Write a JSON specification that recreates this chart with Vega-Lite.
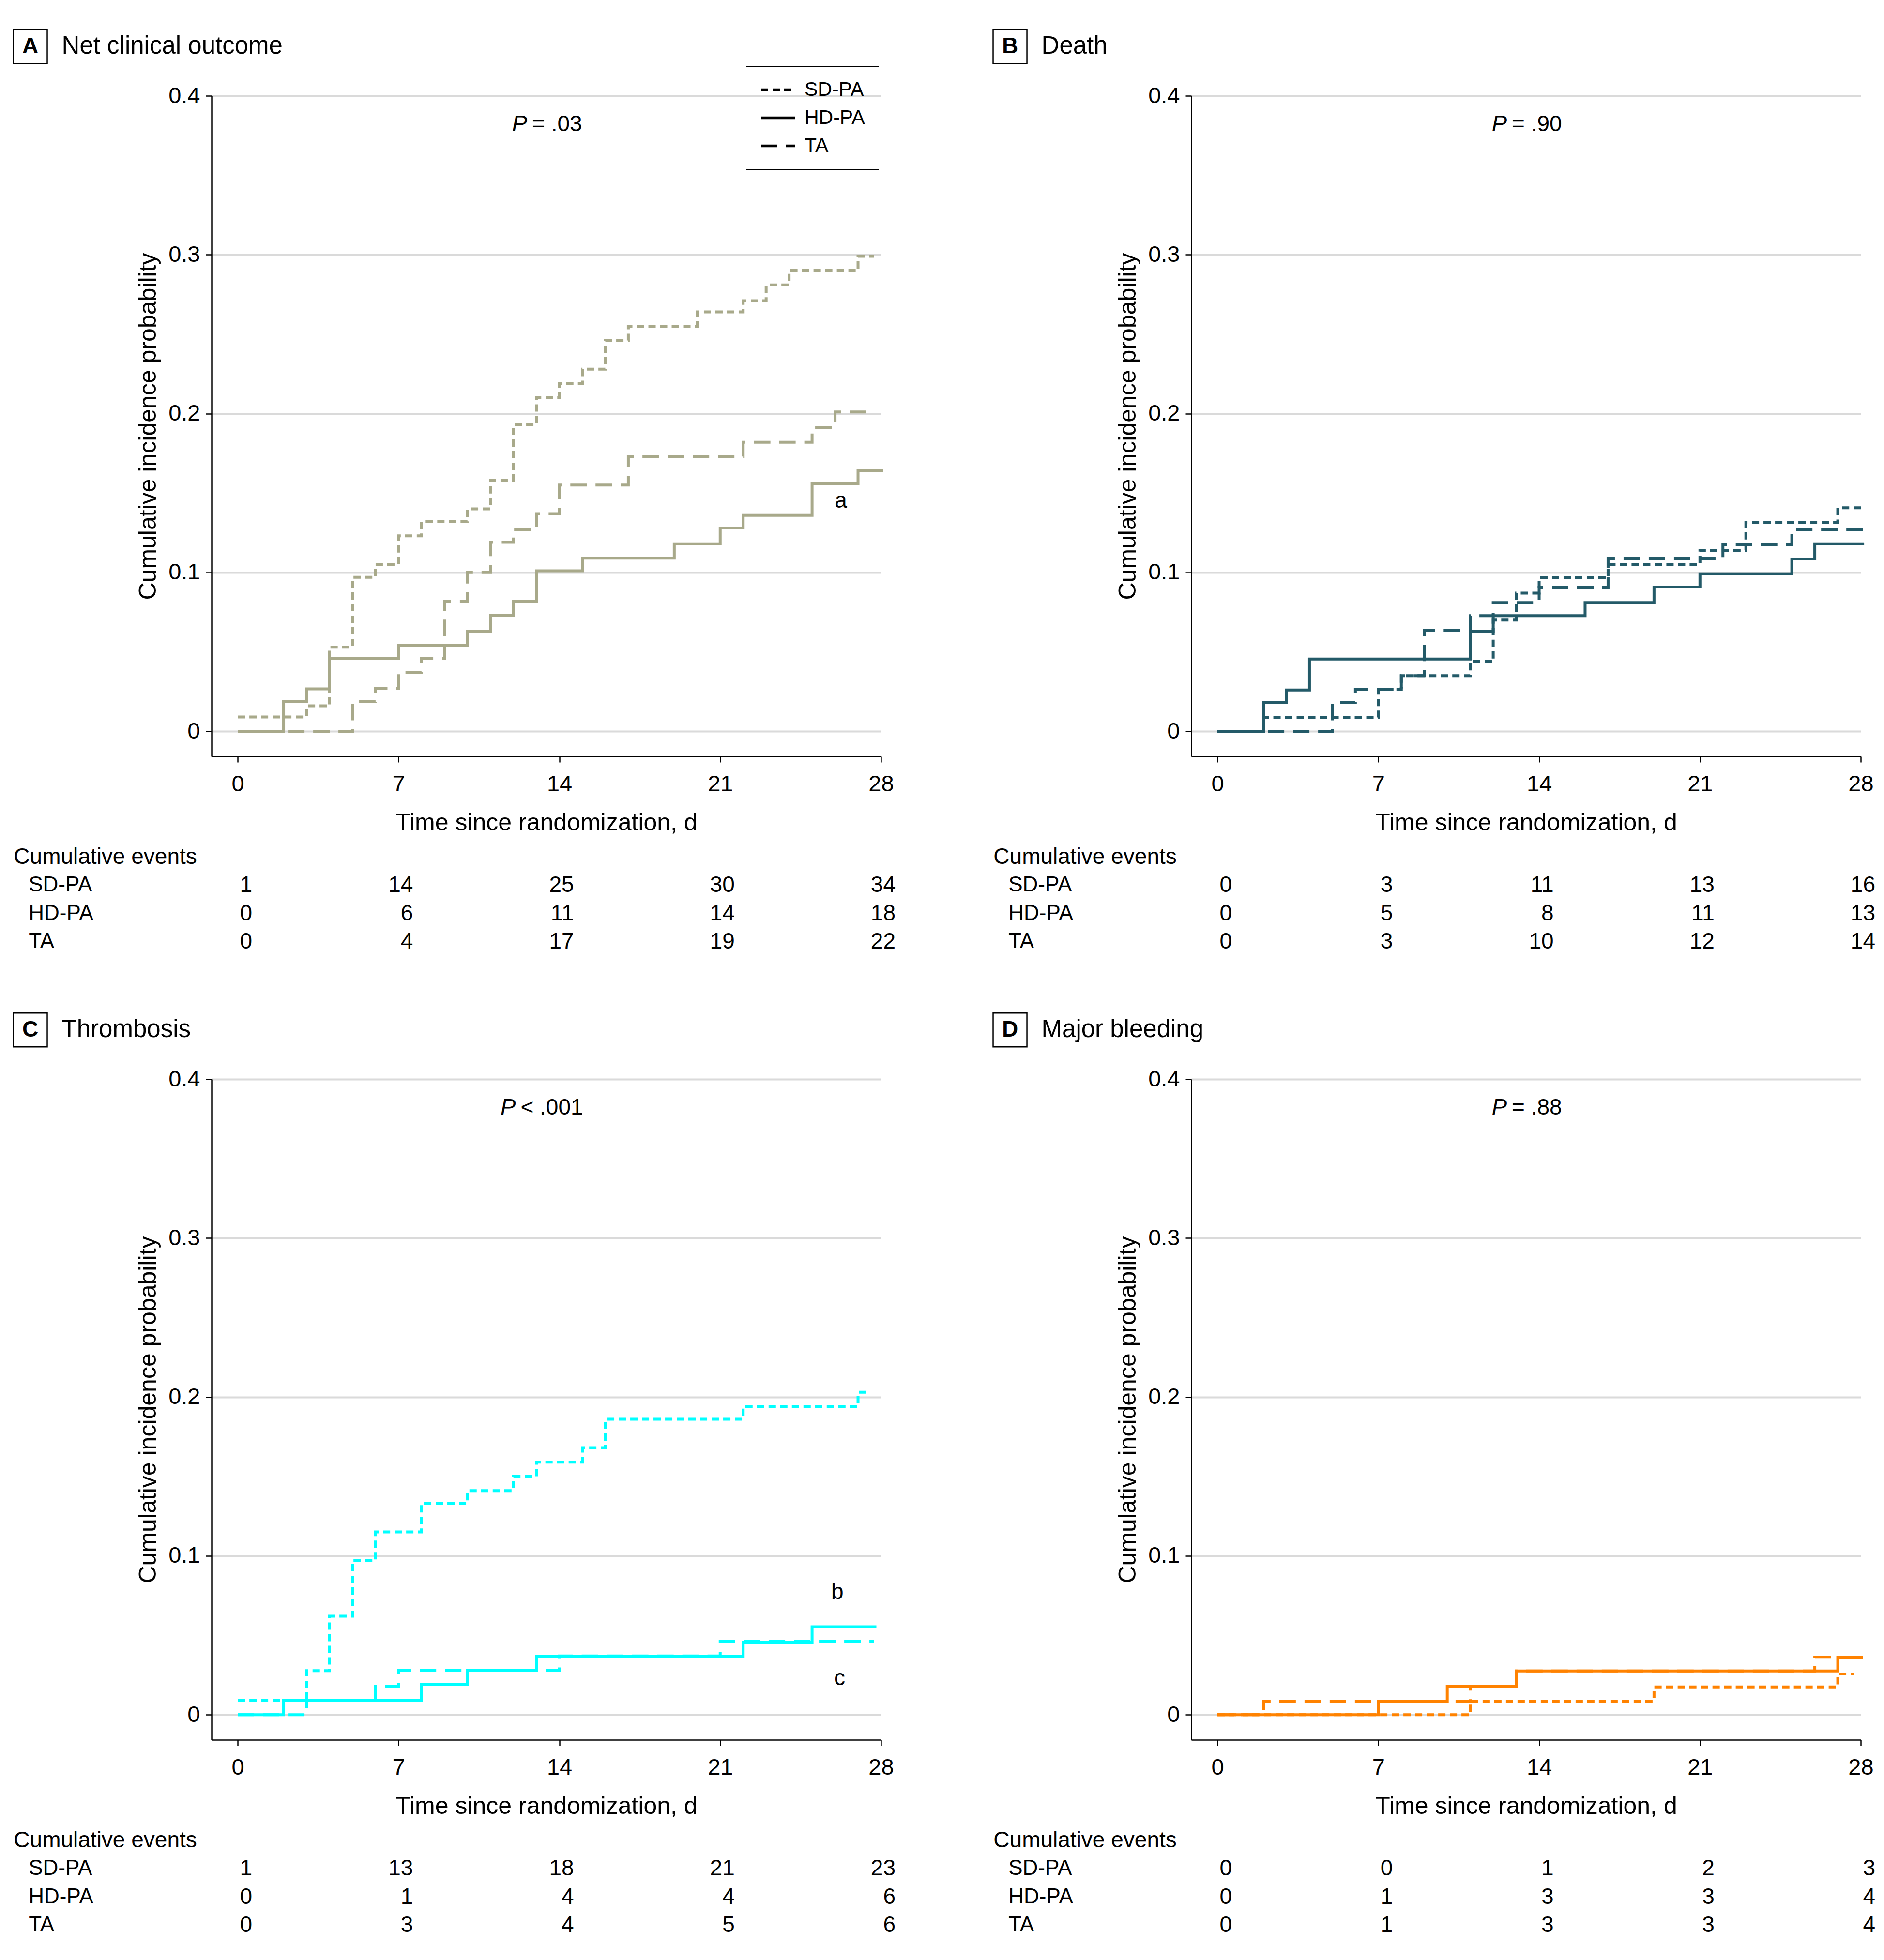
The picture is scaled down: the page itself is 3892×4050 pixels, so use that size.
{
 "$schema": "https://vega.github.io/schema/vega-lite/v6.json",
 "background": "white",
 "padding": {"left": 22, "top": 56, "right": 10, "bottom": 10},
 "autosize": {"type": "pad"},
 "config": {
  "view": {"stroke": null},
  "font": "Liberation Sans",
  "line": {"strokeWidth": 5.5},
  "axis": {"domainColor": "black", "domainWidth": 2.5, "tickColor": "black", "tickWidth": 2.5, "tickSize": 12, "labelFontSize": 47, "labelColor": "black", "titleFontSize": 50, "titleFontWeight": "normal", "titleColor": "black", "labelFont": "Liberation Sans", "titleFont": "Liberation Sans"},
  "axisX": {"grid": false, "labelPadding": 22, "titlePadding": 32, "labelFlush": false},
  "axisY": {"grid": true, "gridColor": "#DADADA", "gridWidth": 4, "labelPadding": 12, "titlePadding": 16},
  "legend": {"labelFont": "Liberation Sans"}
 },
 "datasets": {
  "notes": [
   {"panel": "A", "letter": "A", "title": "Net clinical outcome", "pmark": "P", "ptext": "= .03"},
   {"panel": "B", "letter": "B", "title": "Death", "pmark": "P", "ptext": "= .90"},
   {"panel": "C", "letter": "C", "title": "Thrombosis", "pmark": "P", "ptext": "< .001"},
   {"panel": "D", "letter": "D", "title": "Major  bleeding", "pmark": "P", "ptext": "= .88"}
  ],
  "table": [
   {"panel": "A", "group": "SD-PA", "day": 0, "n": 1}, {"panel": "A", "group": "SD-PA", "day": 7, "n": 14}, {"panel": "A", "group": "SD-PA", "day": 14, "n": 25}, {"panel": "A", "group": "SD-PA", "day": 21, "n": 30}, {"panel": "A", "group": "SD-PA", "day": 28, "n": 34},
   {"panel": "A", "group": "HD-PA", "day": 0, "n": 0}, {"panel": "A", "group": "HD-PA", "day": 7, "n": 6}, {"panel": "A", "group": "HD-PA", "day": 14, "n": 11}, {"panel": "A", "group": "HD-PA", "day": 21, "n": 14}, {"panel": "A", "group": "HD-PA", "day": 28, "n": 18},
   {"panel": "A", "group": "TA", "day": 0, "n": 0}, {"panel": "A", "group": "TA", "day": 7, "n": 4}, {"panel": "A", "group": "TA", "day": 14, "n": 17}, {"panel": "A", "group": "TA", "day": 21, "n": 19}, {"panel": "A", "group": "TA", "day": 28, "n": 22},
   {"panel": "B", "group": "SD-PA", "day": 0, "n": 0}, {"panel": "B", "group": "SD-PA", "day": 7, "n": 3}, {"panel": "B", "group": "SD-PA", "day": 14, "n": 11}, {"panel": "B", "group": "SD-PA", "day": 21, "n": 13}, {"panel": "B", "group": "SD-PA", "day": 28, "n": 16},
   {"panel": "B", "group": "HD-PA", "day": 0, "n": 0}, {"panel": "B", "group": "HD-PA", "day": 7, "n": 5}, {"panel": "B", "group": "HD-PA", "day": 14, "n": 8}, {"panel": "B", "group": "HD-PA", "day": 21, "n": 11}, {"panel": "B", "group": "HD-PA", "day": 28, "n": 13},
   {"panel": "B", "group": "TA", "day": 0, "n": 0}, {"panel": "B", "group": "TA", "day": 7, "n": 3}, {"panel": "B", "group": "TA", "day": 14, "n": 10}, {"panel": "B", "group": "TA", "day": 21, "n": 12}, {"panel": "B", "group": "TA", "day": 28, "n": 14},
   {"panel": "C", "group": "SD-PA", "day": 0, "n": 1}, {"panel": "C", "group": "SD-PA", "day": 7, "n": 13}, {"panel": "C", "group": "SD-PA", "day": 14, "n": 18}, {"panel": "C", "group": "SD-PA", "day": 21, "n": 21}, {"panel": "C", "group": "SD-PA", "day": 28, "n": 23},
   {"panel": "C", "group": "HD-PA", "day": 0, "n": 0}, {"panel": "C", "group": "HD-PA", "day": 7, "n": 1}, {"panel": "C", "group": "HD-PA", "day": 14, "n": 4}, {"panel": "C", "group": "HD-PA", "day": 21, "n": 4}, {"panel": "C", "group": "HD-PA", "day": 28, "n": 6},
   {"panel": "C", "group": "TA", "day": 0, "n": 0}, {"panel": "C", "group": "TA", "day": 7, "n": 3}, {"panel": "C", "group": "TA", "day": 14, "n": 4}, {"panel": "C", "group": "TA", "day": 21, "n": 5}, {"panel": "C", "group": "TA", "day": 28, "n": 6},
   {"panel": "D", "group": "SD-PA", "day": 0, "n": 0}, {"panel": "D", "group": "SD-PA", "day": 7, "n": 0}, {"panel": "D", "group": "SD-PA", "day": 14, "n": 1}, {"panel": "D", "group": "SD-PA", "day": 21, "n": 2}, {"panel": "D", "group": "SD-PA", "day": 28, "n": 3},
   {"panel": "D", "group": "HD-PA", "day": 0, "n": 0}, {"panel": "D", "group": "HD-PA", "day": 7, "n": 1}, {"panel": "D", "group": "HD-PA", "day": 14, "n": 3}, {"panel": "D", "group": "HD-PA", "day": 21, "n": 3}, {"panel": "D", "group": "HD-PA", "day": 28, "n": 4},
   {"panel": "D", "group": "TA", "day": 0, "n": 0}, {"panel": "D", "group": "TA", "day": 7, "n": 1}, {"panel": "D", "group": "TA", "day": 14, "n": 3}, {"panel": "D", "group": "TA", "day": 21, "n": 3}, {"panel": "D", "group": "TA", "day": 28, "n": 4}
  ],
  "curves": [
   {"panel": "A", "group": "TA", "day": 0, "prob": 0}, {"panel": "A", "group": "TA", "day": 5, "prob": 0.0186}, {"panel": "A", "group": "TA", "day": 6, "prob": 0.027}, {"panel": "A", "group": "TA", "day": 7, "prob": 0.037}, {"panel": "A", "group": "TA", "day": 8, "prob": 0.0457}, {"panel": "A", "group": "TA", "day": 9, "prob": 0.082}, {"panel": "A", "group": "TA", "day": 10, "prob": 0.1}, {"panel": "A", "group": "TA", "day": 11, "prob": 0.119}, {"panel": "A", "group": "TA", "day": 12, "prob": 0.127}, {"panel": "A", "group": "TA", "day": 13, "prob": 0.137}, {"panel": "A", "group": "TA", "day": 14, "prob": 0.155}, {"panel": "A", "group": "TA", "day": 17, "prob": 0.173}, {"panel": "A", "group": "TA", "day": 22, "prob": 0.182}, {"panel": "A", "group": "TA", "day": 25, "prob": 0.191}, {"panel": "A", "group": "TA", "day": 26, "prob": 0.201}, {"panel": "A", "group": "TA", "day": 27.7, "prob": 0.201},
   {"panel": "A", "group": "SD-PA", "day": 0, "prob": 0.009}, {"panel": "A", "group": "SD-PA", "day": 3, "prob": 0.016}, {"panel": "A", "group": "SD-PA", "day": 4, "prob": 0.053}, {"panel": "A", "group": "SD-PA", "day": 5, "prob": 0.097}, {"panel": "A", "group": "SD-PA", "day": 6, "prob": 0.105}, {"panel": "A", "group": "SD-PA", "day": 7, "prob": 0.123}, {"panel": "A", "group": "SD-PA", "day": 8, "prob": 0.132}, {"panel": "A", "group": "SD-PA", "day": 10, "prob": 0.14}, {"panel": "A", "group": "SD-PA", "day": 11, "prob": 0.158}, {"panel": "A", "group": "SD-PA", "day": 12, "prob": 0.193}, {"panel": "A", "group": "SD-PA", "day": 13, "prob": 0.21}, {"panel": "A", "group": "SD-PA", "day": 14, "prob": 0.219}, {"panel": "A", "group": "SD-PA", "day": 15, "prob": 0.228}, {"panel": "A", "group": "SD-PA", "day": 16, "prob": 0.246}, {"panel": "A", "group": "SD-PA", "day": 17, "prob": 0.255}, {"panel": "A", "group": "SD-PA", "day": 20, "prob": 0.264}, {"panel": "A", "group": "SD-PA", "day": 22, "prob": 0.271}, {"panel": "A", "group": "SD-PA", "day": 23, "prob": 0.281}, {"panel": "A", "group": "SD-PA", "day": 24, "prob": 0.29}, {"panel": "A", "group": "SD-PA", "day": 27, "prob": 0.299}, {"panel": "A", "group": "SD-PA", "day": 27.7, "prob": 0.299},
   {"panel": "A", "group": "HD-PA", "day": 0, "prob": 0}, {"panel": "A", "group": "HD-PA", "day": 2, "prob": 0.0186}, {"panel": "A", "group": "HD-PA", "day": 3, "prob": 0.0267}, {"panel": "A", "group": "HD-PA", "day": 4, "prob": 0.0457}, {"panel": "A", "group": "HD-PA", "day": 7, "prob": 0.054}, {"panel": "A", "group": "HD-PA", "day": 10, "prob": 0.063}, {"panel": "A", "group": "HD-PA", "day": 11, "prob": 0.073}, {"panel": "A", "group": "HD-PA", "day": 12, "prob": 0.082}, {"panel": "A", "group": "HD-PA", "day": 13, "prob": 0.101}, {"panel": "A", "group": "HD-PA", "day": 15, "prob": 0.109}, {"panel": "A", "group": "HD-PA", "day": 19, "prob": 0.118}, {"panel": "A", "group": "HD-PA", "day": 21, "prob": 0.128}, {"panel": "A", "group": "HD-PA", "day": 22, "prob": 0.136}, {"panel": "A", "group": "HD-PA", "day": 25, "prob": 0.156}, {"panel": "A", "group": "HD-PA", "day": 27, "prob": 0.164}, {"panel": "A", "group": "HD-PA", "day": 28.1, "prob": 0.164},

   {"panel": "B", "group": "TA", "day": 0, "prob": 0}, {"panel": "B", "group": "TA", "day": 5, "prob": 0.018}, {"panel": "B", "group": "TA", "day": 6, "prob": 0.0263}, {"panel": "B", "group": "TA", "day": 8, "prob": 0.035}, {"panel": "B", "group": "TA", "day": 9, "prob": 0.0636}, {"panel": "B", "group": "TA", "day": 11, "prob": 0.0728}, {"panel": "B", "group": "TA", "day": 12, "prob": 0.081}, {"panel": "B", "group": "TA", "day": 14, "prob": 0.0905}, {"panel": "B", "group": "TA", "day": 17, "prob": 0.1088}, {"panel": "B", "group": "TA", "day": 22, "prob": 0.1174}, {"panel": "B", "group": "TA", "day": 25, "prob": 0.127}, {"panel": "B", "group": "TA", "day": 28.15, "prob": 0.127},
   {"panel": "B", "group": "SD-PA", "day": 0, "prob": 0}, {"panel": "B", "group": "SD-PA", "day": 2, "prob": 0.0087}, {"panel": "B", "group": "SD-PA", "day": 7, "prob": 0.0263}, {"panel": "B", "group": "SD-PA", "day": 8, "prob": 0.035}, {"panel": "B", "group": "SD-PA", "day": 11, "prob": 0.0439}, {"panel": "B", "group": "SD-PA", "day": 12, "prob": 0.07}, {"panel": "B", "group": "SD-PA", "day": 13, "prob": 0.087}, {"panel": "B", "group": "SD-PA", "day": 14, "prob": 0.0966}, {"panel": "B", "group": "SD-PA", "day": 17, "prob": 0.105}, {"panel": "B", "group": "SD-PA", "day": 21, "prob": 0.114}, {"panel": "B", "group": "SD-PA", "day": 23, "prob": 0.1316}, {"panel": "B", "group": "SD-PA", "day": 27, "prob": 0.1407}, {"panel": "B", "group": "SD-PA", "day": 28, "prob": 0.1407},
   {"panel": "B", "group": "HD-PA", "day": 0, "prob": 0}, {"panel": "B", "group": "HD-PA", "day": 2, "prob": 0.018}, {"panel": "B", "group": "HD-PA", "day": 3, "prob": 0.026}, {"panel": "B", "group": "HD-PA", "day": 4, "prob": 0.0455}, {"panel": "B", "group": "HD-PA", "day": 11, "prob": 0.063}, {"panel": "B", "group": "HD-PA", "day": 12, "prob": 0.0728}, {"panel": "B", "group": "HD-PA", "day": 16, "prob": 0.081}, {"panel": "B", "group": "HD-PA", "day": 19, "prob": 0.0908}, {"panel": "B", "group": "HD-PA", "day": 21, "prob": 0.0991}, {"panel": "B", "group": "HD-PA", "day": 25, "prob": 0.1085}, {"panel": "B", "group": "HD-PA", "day": 26, "prob": 0.118}, {"panel": "B", "group": "HD-PA", "day": 28.15, "prob": 0.118},

   {"panel": "C", "group": "TA", "day": 0, "prob": 0}, {"panel": "C", "group": "TA", "day": 3, "prob": 0.009}, {"panel": "C", "group": "TA", "day": 6, "prob": 0.018}, {"panel": "C", "group": "TA", "day": 7, "prob": 0.028}, {"panel": "C", "group": "TA", "day": 14, "prob": 0.037}, {"panel": "C", "group": "TA", "day": 21, "prob": 0.046}, {"panel": "C", "group": "TA", "day": 27.7, "prob": 0.046},
   {"panel": "C", "group": "SD-PA", "day": 0, "prob": 0.009}, {"panel": "C", "group": "SD-PA", "day": 3, "prob": 0.0277}, {"panel": "C", "group": "SD-PA", "day": 4, "prob": 0.062}, {"panel": "C", "group": "SD-PA", "day": 5, "prob": 0.097}, {"panel": "C", "group": "SD-PA", "day": 6, "prob": 0.115}, {"panel": "C", "group": "SD-PA", "day": 8, "prob": 0.133}, {"panel": "C", "group": "SD-PA", "day": 10, "prob": 0.141}, {"panel": "C", "group": "SD-PA", "day": 12, "prob": 0.15}, {"panel": "C", "group": "SD-PA", "day": 13, "prob": 0.159}, {"panel": "C", "group": "SD-PA", "day": 15, "prob": 0.168}, {"panel": "C", "group": "SD-PA", "day": 16, "prob": 0.186}, {"panel": "C", "group": "SD-PA", "day": 22, "prob": 0.194}, {"panel": "C", "group": "SD-PA", "day": 27, "prob": 0.203}, {"panel": "C", "group": "SD-PA", "day": 27.5, "prob": 0.203},
   {"panel": "C", "group": "HD-PA", "day": 0, "prob": 0}, {"panel": "C", "group": "HD-PA", "day": 2, "prob": 0.0091}, {"panel": "C", "group": "HD-PA", "day": 8, "prob": 0.019}, {"panel": "C", "group": "HD-PA", "day": 10, "prob": 0.0281}, {"panel": "C", "group": "HD-PA", "day": 13, "prob": 0.0368}, {"panel": "C", "group": "HD-PA", "day": 22, "prob": 0.0454}, {"panel": "C", "group": "HD-PA", "day": 25, "prob": 0.0553}, {"panel": "C", "group": "HD-PA", "day": 27.8, "prob": 0.0553},

   {"panel": "D", "group": "TA", "day": 0, "prob": 0}, {"panel": "D", "group": "TA", "day": 2, "prob": 0.0086}, {"panel": "D", "group": "TA", "day": 11, "prob": 0.0177}, {"panel": "D", "group": "TA", "day": 13, "prob": 0.0275}, {"panel": "D", "group": "TA", "day": 26, "prob": 0.0362}, {"panel": "D", "group": "TA", "day": 28.1, "prob": 0.0362},
   {"panel": "D", "group": "SD-PA", "day": 0, "prob": 0}, {"panel": "D", "group": "SD-PA", "day": 11, "prob": 0.0086}, {"panel": "D", "group": "SD-PA", "day": 19, "prob": 0.0175}, {"panel": "D", "group": "SD-PA", "day": 27, "prob": 0.0256}, {"panel": "D", "group": "SD-PA", "day": 27.7, "prob": 0.0256},
   {"panel": "D", "group": "HD-PA", "day": 0, "prob": 0}, {"panel": "D", "group": "HD-PA", "day": 7, "prob": 0.0086}, {"panel": "D", "group": "HD-PA", "day": 10, "prob": 0.0177}, {"panel": "D", "group": "HD-PA", "day": 13, "prob": 0.0275}, {"panel": "D", "group": "HD-PA", "day": 27, "prob": 0.036}, {"panel": "D", "group": "HD-PA", "day": 28.1, "prob": 0.036}
  ]
 },
 "columns": 2,
 "spacing": {"row": 667, "column": 641},
 "bounds": "flush",
 "resolve": {"scale": {"strokeDash": "independent"}, "legend": {"strokeDash": "independent"}},
 "concat": [
  {
   "width": 1383, "height": 1365,
   "resolve": {"scale": {"y": "independent"}},
   "layer": [
    {"layer": [
     {"data": {"name": "curves"}, "transform": [{"filter": "datum.panel == 'A'"}],
      "mark": {"type": "line", "interpolate": "step-after", "color": "#A8A98A", "strokeWidth": 6, "clip": false},
      "encoding": {
       "x": {"field": "day", "type": "quantitative", "scale": {"domain": [-1.14, 28], "nice": false, "zero": false}, "axis": {"values": [0, 7, 14, 21, 28], "title": "Time since randomization, d"}},
       "y": {"field": "prob", "type": "quantitative", "scale": {"domain": [-0.0158, 0.4], "nice": false, "zero": false}, "axis": {"values": [0, 0.1, 0.2, 0.3, 0.4], "title": "Cumulative incidence probability", "labelExpr": "datum.value == 0 ? '0' : format(datum.value, '.1f')"}},
       "strokeDash": {"field": "group", "type": "nominal", "scale": {"domain": ["SD-PA", "HD-PA", "TA"], "range": [[15, 9], [1, 0], [34, 18]]},
        "legend": {"title": null, "orient": "none", "legendX": 1104, "legendY": -61, "strokeColor": "black", "padding": 28, "symbolType": "stroke", "symbolSize": 5041, "symbolStrokeWidth": 5.5, "symbolStrokeColor": "black", "clipHeight": 41, "labelFontSize": 41, "labelOffset": 16, "rowPadding": 16, "labelColor": "black"}}
      }},
     {"data": {"name": "notes"}, "transform": [{"filter": "datum.panel == 'A'"}],
      "mark": {"type": "text", "fontStyle": "italic", "fontSize": 47, "align": "right", "baseline": "middle"},
      "encoding": {"x": {"datum": 12.6, "type": "quantitative", "scale": {"domain": [-1.14, 28], "nice": false, "zero": false}}, "y": {"datum": 0.382, "type": "quantitative", "scale": {"domain": [-0.0158, 0.4], "nice": false, "zero": false}}, "text": {"field": "pmark"}}},
     {"data": {"name": "notes"}, "transform": [{"filter": "datum.panel == 'A'"}],
      "mark": {"type": "text", "fontSize": 46, "align": "left", "baseline": "middle", "dx": 10},
      "encoding": {"x": {"datum": 12.6, "type": "quantitative", "scale": {"domain": [-1.14, 28], "nice": false, "zero": false}}, "y": {"datum": 0.382, "type": "quantitative", "scale": {"domain": [-0.0158, 0.4], "nice": false, "zero": false}}, "text": {"field": "ptext"}}},
     {"data": {"name": "notes"}, "transform": [{"filter": "datum.panel == 'A'"}],
      "mark": {"type": "point", "shape": "square", "size": 4900, "filled": false, "color": "black", "strokeWidth": 2.5, "opacity": 1},
      "encoding": {"x": {"datum": -9.03, "type": "quantitative", "scale": {"domain": [-1.14, 28], "nice": false, "zero": false}}, "y": {"datum": 0.431, "type": "quantitative", "scale": {"domain": [-0.0158, 0.4], "nice": false, "zero": false}}}},
     {"data": {"name": "notes"}, "transform": [{"filter": "datum.panel == 'A'"}],
      "mark": {"type": "text", "fontSize": 46, "fontWeight": "bold", "align": "center", "baseline": "middle"},
      "encoding": {"x": {"datum": -9.03, "type": "quantitative", "scale": {"domain": [-1.14, 28], "nice": false, "zero": false}}, "y": {"datum": 0.431, "type": "quantitative", "scale": {"domain": [-0.0158, 0.4], "nice": false, "zero": false}}, "text": {"field": "letter"}}},
     {"data": {"name": "notes"}, "transform": [{"filter": "datum.panel == 'A'"}],
      "mark": {"type": "text", "fontSize": 51, "align": "left", "baseline": "middle"},
      "encoding": {"x": {"datum": -7.66, "type": "quantitative", "scale": {"domain": [-1.14, 28], "nice": false, "zero": false}}, "y": {"datum": 0.431, "type": "quantitative", "scale": {"domain": [-0.0158, 0.4], "nice": false, "zero": false}}, "text": {"field": "title"}}},
     {"data": {"name": "notes"}, "transform": [{"filter": "datum.panel == 'A'"}],
      "mark": {"type": "text", "fontSize": 46, "align": "center", "baseline": "middle", "text": "a"},
      "encoding": {"x": {"datum": 26.25, "type": "quantitative", "scale": {"domain": [-1.14, 28], "nice": false, "zero": false}}, "y": {"datum": 0.145, "type": "quantitative", "scale": {"domain": [-0.0158, 0.4], "nice": false, "zero": false}}}}
    ]},
    {"layer": [
     {"data": {"name": "table"}, "transform": [{"filter": "datum.panel == 'A'"}],
      "mark": {"type": "text", "fontSize": 46, "align": "right", "baseline": "middle", "dx": 30},
      "encoding": {"x": {"field": "day", "type": "quantitative", "scale": {"domain": [-1.14, 28], "nice": false, "zero": false}}, "y": {"field": "group", "type": "nominal", "scale": {"type": "point", "domain": ["Cumulative events", "SD-PA", "HD-PA", "TA"], "range": [1573, 1748], "padding": 0}, "axis": null}, "text": {"field": "n"}}},
     {"data": {"name": "table"}, "transform": [{"filter": "datum.panel == 'A' && datum.day == 0"}],
      "mark": {"type": "text", "fontSize": 44, "align": "left", "baseline": "middle"},
      "encoding": {"x": {"datum": -9.1, "type": "quantitative", "scale": {"domain": [-1.14, 28], "nice": false, "zero": false}}, "y": {"field": "group", "type": "nominal", "scale": {"type": "point", "domain": ["Cumulative events", "SD-PA", "HD-PA", "TA"], "range": [1573, 1748], "padding": 0}, "axis": null}, "text": {"field": "group"}}},
     {"data": {"name": "notes"}, "transform": [{"filter": "datum.panel == 'A'"}],
      "mark": {"type": "text", "fontSize": 46, "align": "left", "baseline": "middle", "text": "Cumulative events"},
      "encoding": {"x": {"datum": -9.75, "type": "quantitative", "scale": {"domain": [-1.14, 28], "nice": false, "zero": false}}, "y": {"datum": "Cumulative events", "type": "nominal", "scale": {"type": "point", "domain": ["Cumulative events", "SD-PA", "HD-PA", "TA"], "range": [1573, 1748], "padding": 0}, "axis": null}}}
    ]}
   ]
  },
  {
   "width": 1383, "height": 1365,
   "resolve": {"scale": {"y": "independent"}},
   "layer": [
    {"layer": [
     {"data": {"name": "curves"}, "transform": [{"filter": "datum.panel == 'B'"}],
      "mark": {"type": "line", "interpolate": "step-after", "color": "#235A68", "strokeWidth": 6, "clip": false},
      "encoding": {
       "x": {"field": "day", "type": "quantitative", "scale": {"domain": [-1.14, 28], "nice": false, "zero": false}, "axis": {"values": [0, 7, 14, 21, 28], "title": "Time since randomization, d"}},
       "y": {"field": "prob", "type": "quantitative", "scale": {"domain": [-0.0158, 0.4], "nice": false, "zero": false}, "axis": {"values": [0, 0.1, 0.2, 0.3, 0.4], "title": "Cumulative incidence probability", "labelExpr": "datum.value == 0 ? '0' : format(datum.value, '.1f')"}},
       "strokeDash": {"field": "group", "type": "nominal", "scale": {"domain": ["SD-PA", "HD-PA", "TA"], "range": [[15, 9], [1, 0], [34, 18]]}, "legend": null}
      }},
     {"data": {"name": "notes"}, "transform": [{"filter": "datum.panel == 'B'"}],
      "mark": {"type": "text", "fontStyle": "italic", "fontSize": 47, "align": "right", "baseline": "middle"},
      "encoding": {"x": {"datum": 12.6, "type": "quantitative", "scale": {"domain": [-1.14, 28], "nice": false, "zero": false}}, "y": {"datum": 0.382, "type": "quantitative", "scale": {"domain": [-0.0158, 0.4], "nice": false, "zero": false}}, "text": {"field": "pmark"}}},
     {"data": {"name": "notes"}, "transform": [{"filter": "datum.panel == 'B'"}],
      "mark": {"type": "text", "fontSize": 46, "align": "left", "baseline": "middle", "dx": 10},
      "encoding": {"x": {"datum": 12.6, "type": "quantitative", "scale": {"domain": [-1.14, 28], "nice": false, "zero": false}}, "y": {"datum": 0.382, "type": "quantitative", "scale": {"domain": [-0.0158, 0.4], "nice": false, "zero": false}}, "text": {"field": "ptext"}}},
     {"data": {"name": "notes"}, "transform": [{"filter": "datum.panel == 'B'"}],
      "mark": {"type": "point", "shape": "square", "size": 4900, "filled": false, "color": "black", "strokeWidth": 2.5, "opacity": 1},
      "encoding": {"x": {"datum": -9.03, "type": "quantitative", "scale": {"domain": [-1.14, 28], "nice": false, "zero": false}}, "y": {"datum": 0.431, "type": "quantitative", "scale": {"domain": [-0.0158, 0.4], "nice": false, "zero": false}}}},
     {"data": {"name": "notes"}, "transform": [{"filter": "datum.panel == 'B'"}],
      "mark": {"type": "text", "fontSize": 46, "fontWeight": "bold", "align": "center", "baseline": "middle"},
      "encoding": {"x": {"datum": -9.03, "type": "quantitative", "scale": {"domain": [-1.14, 28], "nice": false, "zero": false}}, "y": {"datum": 0.431, "type": "quantitative", "scale": {"domain": [-0.0158, 0.4], "nice": false, "zero": false}}, "text": {"field": "letter"}}},
     {"data": {"name": "notes"}, "transform": [{"filter": "datum.panel == 'B'"}],
      "mark": {"type": "text", "fontSize": 51, "align": "left", "baseline": "middle"},
      "encoding": {"x": {"datum": -7.66, "type": "quantitative", "scale": {"domain": [-1.14, 28], "nice": false, "zero": false}}, "y": {"datum": 0.431, "type": "quantitative", "scale": {"domain": [-0.0158, 0.4], "nice": false, "zero": false}}, "text": {"field": "title"}}}
    ]},
    {"layer": [
     {"data": {"name": "table"}, "transform": [{"filter": "datum.panel == 'B'"}],
      "mark": {"type": "text", "fontSize": 46, "align": "right", "baseline": "middle", "dx": 30},
      "encoding": {"x": {"field": "day", "type": "quantitative", "scale": {"domain": [-1.14, 28], "nice": false, "zero": false}}, "y": {"field": "group", "type": "nominal", "scale": {"type": "point", "domain": ["Cumulative events", "SD-PA", "HD-PA", "TA"], "range": [1573, 1748], "padding": 0}, "axis": null}, "text": {"field": "n"}}},
     {"data": {"name": "table"}, "transform": [{"filter": "datum.panel == 'B' && datum.day == 0"}],
      "mark": {"type": "text", "fontSize": 44, "align": "left", "baseline": "middle"},
      "encoding": {"x": {"datum": -9.1, "type": "quantitative", "scale": {"domain": [-1.14, 28], "nice": false, "zero": false}}, "y": {"field": "group", "type": "nominal", "scale": {"type": "point", "domain": ["Cumulative events", "SD-PA", "HD-PA", "TA"], "range": [1573, 1748], "padding": 0}, "axis": null}, "text": {"field": "group"}}},
     {"data": {"name": "notes"}, "transform": [{"filter": "datum.panel == 'B'"}],
      "mark": {"type": "text", "fontSize": 46, "align": "left", "baseline": "middle", "text": "Cumulative events"},
      "encoding": {"x": {"datum": -9.75, "type": "quantitative", "scale": {"domain": [-1.14, 28], "nice": false, "zero": false}}, "y": {"datum": "Cumulative events", "type": "nominal", "scale": {"type": "point", "domain": ["Cumulative events", "SD-PA", "HD-PA", "TA"], "range": [1573, 1748], "padding": 0}, "axis": null}}}
    ]}
   ]
  },
  {
   "width": 1383, "height": 1365,
   "resolve": {"scale": {"y": "independent"}},
   "layer": [
    {"layer": [
     {"data": {"name": "curves"}, "transform": [{"filter": "datum.panel == 'C'"}],
      "mark": {"type": "line", "interpolate": "step-after", "color": "#00FFFF", "strokeWidth": 6, "clip": false},
      "encoding": {
       "x": {"field": "day", "type": "quantitative", "scale": {"domain": [-1.14, 28], "nice": false, "zero": false}, "axis": {"values": [0, 7, 14, 21, 28], "title": "Time since randomization, d"}},
       "y": {"field": "prob", "type": "quantitative", "scale": {"domain": [-0.0158, 0.4], "nice": false, "zero": false}, "axis": {"values": [0, 0.1, 0.2, 0.3, 0.4], "title": "Cumulative incidence probability", "labelExpr": "datum.value == 0 ? '0' : format(datum.value, '.1f')"}},
       "strokeDash": {"field": "group", "type": "nominal", "scale": {"domain": ["SD-PA", "HD-PA", "TA"], "range": [[15, 9], [1, 0], [34, 18]]}, "legend": null}
      }},
     {"data": {"name": "notes"}, "transform": [{"filter": "datum.panel == 'C'"}],
      "mark": {"type": "text", "fontStyle": "italic", "fontSize": 47, "align": "right", "baseline": "middle"},
      "encoding": {"x": {"datum": 12.1, "type": "quantitative", "scale": {"domain": [-1.14, 28], "nice": false, "zero": false}}, "y": {"datum": 0.382, "type": "quantitative", "scale": {"domain": [-0.0158, 0.4], "nice": false, "zero": false}}, "text": {"field": "pmark"}}},
     {"data": {"name": "notes"}, "transform": [{"filter": "datum.panel == 'C'"}],
      "mark": {"type": "text", "fontSize": 46, "align": "left", "baseline": "middle", "dx": 10},
      "encoding": {"x": {"datum": 12.1, "type": "quantitative", "scale": {"domain": [-1.14, 28], "nice": false, "zero": false}}, "y": {"datum": 0.382, "type": "quantitative", "scale": {"domain": [-0.0158, 0.4], "nice": false, "zero": false}}, "text": {"field": "ptext"}}},
     {"data": {"name": "notes"}, "transform": [{"filter": "datum.panel == 'C'"}],
      "mark": {"type": "point", "shape": "square", "size": 4900, "filled": false, "color": "black", "strokeWidth": 2.5, "opacity": 1},
      "encoding": {"x": {"datum": -9.03, "type": "quantitative", "scale": {"domain": [-1.14, 28], "nice": false, "zero": false}}, "y": {"datum": 0.431, "type": "quantitative", "scale": {"domain": [-0.0158, 0.4], "nice": false, "zero": false}}}},
     {"data": {"name": "notes"}, "transform": [{"filter": "datum.panel == 'C'"}],
      "mark": {"type": "text", "fontSize": 46, "fontWeight": "bold", "align": "center", "baseline": "middle"},
      "encoding": {"x": {"datum": -9.03, "type": "quantitative", "scale": {"domain": [-1.14, 28], "nice": false, "zero": false}}, "y": {"datum": 0.431, "type": "quantitative", "scale": {"domain": [-0.0158, 0.4], "nice": false, "zero": false}}, "text": {"field": "letter"}}},
     {"data": {"name": "notes"}, "transform": [{"filter": "datum.panel == 'C'"}],
      "mark": {"type": "text", "fontSize": 51, "align": "left", "baseline": "middle"},
      "encoding": {"x": {"datum": -7.66, "type": "quantitative", "scale": {"domain": [-1.14, 28], "nice": false, "zero": false}}, "y": {"datum": 0.431, "type": "quantitative", "scale": {"domain": [-0.0158, 0.4], "nice": false, "zero": false}}, "text": {"field": "title"}}},
     {"data": {"name": "notes"}, "transform": [{"filter": "datum.panel == 'C'"}],
      "mark": {"type": "text", "fontSize": 46, "align": "center", "baseline": "middle", "text": "b"},
      "encoding": {"x": {"datum": 26.1, "type": "quantitative", "scale": {"domain": [-1.14, 28], "nice": false, "zero": false}}, "y": {"datum": 0.077, "type": "quantitative", "scale": {"domain": [-0.0158, 0.4], "nice": false, "zero": false}}}},
     {"data": {"name": "notes"}, "transform": [{"filter": "datum.panel == 'C'"}],
      "mark": {"type": "text", "fontSize": 46, "align": "center", "baseline": "middle", "text": "c"},
      "encoding": {"x": {"datum": 26.2, "type": "quantitative", "scale": {"domain": [-1.14, 28], "nice": false, "zero": false}}, "y": {"datum": 0.023, "type": "quantitative", "scale": {"domain": [-0.0158, 0.4], "nice": false, "zero": false}}}}
    ]},
    {"layer": [
     {"data": {"name": "table"}, "transform": [{"filter": "datum.panel == 'C'"}],
      "mark": {"type": "text", "fontSize": 46, "align": "right", "baseline": "middle", "dx": 30},
      "encoding": {"x": {"field": "day", "type": "quantitative", "scale": {"domain": [-1.14, 28], "nice": false, "zero": false}}, "y": {"field": "group", "type": "nominal", "scale": {"type": "point", "domain": ["Cumulative events", "SD-PA", "HD-PA", "TA"], "range": [1573, 1748], "padding": 0}, "axis": null}, "text": {"field": "n"}}},
     {"data": {"name": "table"}, "transform": [{"filter": "datum.panel == 'C' && datum.day == 0"}],
      "mark": {"type": "text", "fontSize": 44, "align": "left", "baseline": "middle"},
      "encoding": {"x": {"datum": -9.1, "type": "quantitative", "scale": {"domain": [-1.14, 28], "nice": false, "zero": false}}, "y": {"field": "group", "type": "nominal", "scale": {"type": "point", "domain": ["Cumulative events", "SD-PA", "HD-PA", "TA"], "range": [1573, 1748], "padding": 0}, "axis": null}, "text": {"field": "group"}}},
     {"data": {"name": "notes"}, "transform": [{"filter": "datum.panel == 'C'"}],
      "mark": {"type": "text", "fontSize": 46, "align": "left", "baseline": "middle", "text": "Cumulative events"},
      "encoding": {"x": {"datum": -9.75, "type": "quantitative", "scale": {"domain": [-1.14, 28], "nice": false, "zero": false}}, "y": {"datum": "Cumulative events", "type": "nominal", "scale": {"type": "point", "domain": ["Cumulative events", "SD-PA", "HD-PA", "TA"], "range": [1573, 1748], "padding": 0}, "axis": null}}}
    ]}
   ]
  },
  {
   "width": 1383, "height": 1365,
   "resolve": {"scale": {"y": "independent"}},
   "layer": [
    {"layer": [
     {"data": {"name": "curves"}, "transform": [{"filter": "datum.panel == 'D'"}],
      "mark": {"type": "line", "interpolate": "step-after", "color": "#FF8200", "strokeWidth": 6, "clip": false},
      "encoding": {
       "x": {"field": "day", "type": "quantitative", "scale": {"domain": [-1.14, 28], "nice": false, "zero": false}, "axis": {"values": [0, 7, 14, 21, 28], "title": "Time since randomization, d"}},
       "y": {"field": "prob", "type": "quantitative", "scale": {"domain": [-0.0158, 0.4], "nice": false, "zero": false}, "axis": {"values": [0, 0.1, 0.2, 0.3, 0.4], "title": "Cumulative incidence probability", "labelExpr": "datum.value == 0 ? '0' : format(datum.value, '.1f')"}},
       "strokeDash": {"field": "group", "type": "nominal", "scale": {"domain": ["SD-PA", "HD-PA", "TA"], "range": [[15, 9], [1, 0], [34, 18]]}, "legend": null}
      }},
     {"data": {"name": "notes"}, "transform": [{"filter": "datum.panel == 'D'"}],
      "mark": {"type": "text", "fontStyle": "italic", "fontSize": 47, "align": "right", "baseline": "middle"},
      "encoding": {"x": {"datum": 12.6, "type": "quantitative", "scale": {"domain": [-1.14, 28], "nice": false, "zero": false}}, "y": {"datum": 0.382, "type": "quantitative", "scale": {"domain": [-0.0158, 0.4], "nice": false, "zero": false}}, "text": {"field": "pmark"}}},
     {"data": {"name": "notes"}, "transform": [{"filter": "datum.panel == 'D'"}],
      "mark": {"type": "text", "fontSize": 46, "align": "left", "baseline": "middle", "dx": 10},
      "encoding": {"x": {"datum": 12.6, "type": "quantitative", "scale": {"domain": [-1.14, 28], "nice": false, "zero": false}}, "y": {"datum": 0.382, "type": "quantitative", "scale": {"domain": [-0.0158, 0.4], "nice": false, "zero": false}}, "text": {"field": "ptext"}}},
     {"data": {"name": "notes"}, "transform": [{"filter": "datum.panel == 'D'"}],
      "mark": {"type": "point", "shape": "square", "size": 4900, "filled": false, "color": "black", "strokeWidth": 2.5, "opacity": 1},
      "encoding": {"x": {"datum": -9.03, "type": "quantitative", "scale": {"domain": [-1.14, 28], "nice": false, "zero": false}}, "y": {"datum": 0.431, "type": "quantitative", "scale": {"domain": [-0.0158, 0.4], "nice": false, "zero": false}}}},
     {"data": {"name": "notes"}, "transform": [{"filter": "datum.panel == 'D'"}],
      "mark": {"type": "text", "fontSize": 46, "fontWeight": "bold", "align": "center", "baseline": "middle"},
      "encoding": {"x": {"datum": -9.03, "type": "quantitative", "scale": {"domain": [-1.14, 28], "nice": false, "zero": false}}, "y": {"datum": 0.431, "type": "quantitative", "scale": {"domain": [-0.0158, 0.4], "nice": false, "zero": false}}, "text": {"field": "letter"}}},
     {"data": {"name": "notes"}, "transform": [{"filter": "datum.panel == 'D'"}],
      "mark": {"type": "text", "fontSize": 51, "align": "left", "baseline": "middle"},
      "encoding": {"x": {"datum": -7.66, "type": "quantitative", "scale": {"domain": [-1.14, 28], "nice": false, "zero": false}}, "y": {"datum": 0.431, "type": "quantitative", "scale": {"domain": [-0.0158, 0.4], "nice": false, "zero": false}}, "text": {"field": "title"}}}
    ]},
    {"layer": [
     {"data": {"name": "table"}, "transform": [{"filter": "datum.panel == 'D'"}],
      "mark": {"type": "text", "fontSize": 46, "align": "right", "baseline": "middle", "dx": 30},
      "encoding": {"x": {"field": "day", "type": "quantitative", "scale": {"domain": [-1.14, 28], "nice": false, "zero": false}}, "y": {"field": "group", "type": "nominal", "scale": {"type": "point", "domain": ["Cumulative events", "SD-PA", "HD-PA", "TA"], "range": [1573, 1748], "padding": 0}, "axis": null}, "text": {"field": "n"}}},
     {"data": {"name": "table"}, "transform": [{"filter": "datum.panel == 'D' && datum.day == 0"}],
      "mark": {"type": "text", "fontSize": 44, "align": "left", "baseline": "middle"},
      "encoding": {"x": {"datum": -9.1, "type": "quantitative", "scale": {"domain": [-1.14, 28], "nice": false, "zero": false}}, "y": {"field": "group", "type": "nominal", "scale": {"type": "point", "domain": ["Cumulative events", "SD-PA", "HD-PA", "TA"], "range": [1573, 1748], "padding": 0}, "axis": null}, "text": {"field": "group"}}},
     {"data": {"name": "notes"}, "transform": [{"filter": "datum.panel == 'D'"}],
      "mark": {"type": "text", "fontSize": 46, "align": "left", "baseline": "middle", "text": "Cumulative events"},
      "encoding": {"x": {"datum": -9.75, "type": "quantitative", "scale": {"domain": [-1.14, 28], "nice": false, "zero": false}}, "y": {"datum": "Cumulative events", "type": "nominal", "scale": {"type": "point", "domain": ["Cumulative events", "SD-PA", "HD-PA", "TA"], "range": [1573, 1748], "padding": 0}, "axis": null}}}
    ]}
   ]
  }
 ]
}
